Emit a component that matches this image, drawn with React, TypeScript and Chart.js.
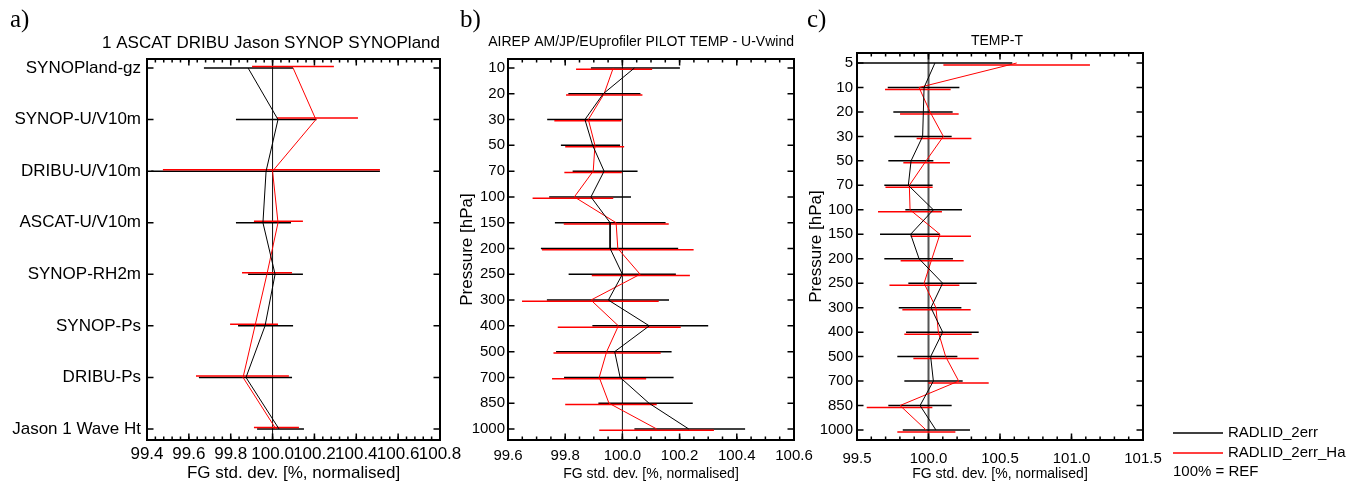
import React, { useEffect, useRef } from "react";
import { Chart, registerables } from "chart.js";

Chart.register(...registerables);

// ---------------- shared texts ----------------
const REF_VALUE = 100.0;
const X_TITLE = "FG std. dev. [%, normalised]";
const Y_TITLE = "Pressure [hPa]";
const SERIES_NAMES = ["RADLID_2err", "RADLID_2err_Ha"];
const REF_NOTE = "100% = REF";

// ---------------- panel a ----------------
const aTitle = "1 ASCAT DRIBU Jason SYNOP SYNOPland";
const aCategories = [
  "SYNOPland-gz",
  "SYNOP-U/V10m",
  "DRIBU-U/V10m",
  "ASCAT-U/V10m",
  "SYNOP-RH2m",
  "SYNOP-Ps",
  "DRIBU-Ps",
  "Jason 1 Wave Ht",
];
const aBlackMean = [99.883, 100.026, 99.969, 99.954, 100.012, 99.964, 99.873, 100.031];
const aBlackLow = [99.672, 99.825, 99.42, 99.825, 99.883, 99.835, 99.648, 99.926];
const aBlackHigh = [100.098, 100.21, 100.513, 100.088, 100.145, 100.098, 100.093, 100.15];
const aRedMean = [100.098, 100.207, 100.0, 100.026, 99.973, 99.916, 99.859, 100.016];
const aRedLow = [99.902, 100.021, 99.476, 99.911, 99.854, 99.797, 99.634, 99.911];
const aRedHigh = [100.293, 100.408, 100.513, 100.145, 100.093, 100.026, 100.078, 100.126];
const aXTicks = [99.4, 99.6, 99.8, 100.0, 100.2, 100.4, 100.6, 100.8];

// ---------------- panel b ----------------
const bTitle = "AIREP AM/JP/EUprofiler PILOT TEMP - U-Vwind";
const bLevels = ["10", "20", "30", "50", "70", "100", "150", "200", "250", "300", "400", "500", "700", "850", "1000"];
const bBlackMean = [100.042, 99.933, 99.869, 99.896, 99.936, 99.89, 99.957, 99.957, 100.0, 99.951, 100.094, 99.973, 99.992, 100.093, 100.232];
const bBlackLow = [99.89, 99.811, 99.737, 99.785, 99.826, 99.744, 99.764, 99.715, 99.812, 99.736, 99.895, 99.768, 99.796, 99.916, 100.042];
const bBlackHigh = [100.201, 100.063, 100.0, 99.992, 100.053, 100.03, 100.151, 100.195, 100.187, 100.163, 100.3, 100.172, 100.179, 100.246, 100.429];
const bRedMean = [99.968, 99.936, 99.881, 99.904, 99.898, 99.832, 99.978, 99.984, 100.062, 99.89, 99.986, 99.945, 99.919, 99.953, 100.12];
const bRedLow = [99.838, 99.803, 99.762, 99.8, 99.797, 99.686, 99.795, 99.719, 99.893, 99.649, 99.774, 99.759, 99.754, 99.8, 99.919];
const bRedHigh = [100.104, 100.07, 99.996, 100.006, 99.998, 99.968, 100.162, 100.249, 100.236, 100.127, 100.204, 100.134, 100.083, 100.12, 100.32];
const bXTicks = [99.6, 99.8, 100.0, 100.2, 100.4, 100.6];

// ---------------- panel c ----------------
const cTitle = "TEMP-T";
const cLevels = ["5", "10", "20", "30", "50", "70", "100", "150", "200", "250", "300", "400", "500", "700", "850", "1000"];
const cBlackMean = [100.045, 99.969, 99.964, 99.959, 99.878, 99.859, 100.034, 99.875, 99.934, 100.099, 100.017, 100.099, 100.015, 100.034, 99.941, 100.052];
const cBlackLow = [99.49, 99.715, 99.754, 99.761, 99.719, 99.691, 99.838, 99.661, 99.691, 99.859, 99.792, 99.843, 99.782, 99.831, 99.719, 99.82];
const cBlackHigh = [100.586, 100.216, 100.169, 100.162, 100.034, 100.029, 100.234, 100.08, 100.171, 100.337, 100.23, 100.351, 100.202, 100.239, 100.162, 100.29];
const cRedMean = [100.617, 99.934, 100.011, 100.104, 99.983, 99.866, 99.871, 100.08, 100.024, 99.969, 100.052, 100.069, 100.12, 100.211, 99.801, 99.983];
const cRedLow = [100.104, 99.696, 99.801, 99.917, 99.824, 99.699, 99.647, 99.875, 99.805, 99.727, 99.817, 99.831, 99.894, 99.999, 99.568, 99.782];
const cRedHigh = [101.129, 100.155, 100.211, 100.3, 100.15, 100.029, 100.094, 100.297, 100.246, 100.216, 100.295, 100.302, 100.351, 100.421, 100.027, 100.188];
const cXTicks = [99.5, 100.0, 100.5, 101.0, 101.5];

// ---------------- layout / style ----------------
const W = 1354;
const H = 484;
const SANS = '"Liberation Sans", Arial, Helvetica, sans-serif';
const SERIF = '"Liberation Serif", "Times New Roman", serif';
const BLACK = "#000000";
const RED = "#ff0000";

type Series = { color: string; mean: number[]; lo: number[]; hi: number[]; barOffset: number };
type PanelCfg = {
  key: string;
  letter: string;
  letterX: number;
  title: string;
  titleAlign: "right" | "center";
  titleSize: number;
  titleY: number;
  yLabels: string[];
  yMin: number;
  yMax: number;
  xMin: number;
  xMax: number;
  xTicks: number[];
  minorStep: number;
  padLeft: number;
  boxLeft: number;
  boxRight: number;
  boxTop: number;
  boxBottom: number;
  yTickSize: number;
  yTickPad: number;
  xTickSize: number;
  xTickPad: number;
  xTitleSize: number;
  xTitlePadBottom: number;
  yTitle: boolean;
  refColor: string;
  refWidth: number;
  legend: boolean;
  series: Series[];
};

const panels: PanelCfg[] = [
  {
    key: "a",
    letter: "a)",
    letterX: 10,
    title: aTitle,
    titleAlign: "right",
    titleSize: 17,
    titleY: 43.5,
    yLabels: aCategories,
    yMin: -0.1745,
    yMax: 7.213,
    xMin: 99.4,
    xMax: 100.8,
    xTicks: aXTicks,
    minorStep: 0.04,
    padLeft: 0,
    boxLeft: 147,
    boxRight: 440,
    boxTop: 59,
    boxBottom: 440,
    yTickSize: 17,
    yTickPad: 6,
    xTickSize: 17,
    xTickPad: 4,
    xTitleSize: 17,
    xTitlePadBottom: 0,
    yTitle: false,
    refColor: "#111111",
    refWidth: 1,
    legend: false,
    series: [
      { color: BLACK, mean: aBlackMean, lo: aBlackLow, hi: aBlackHigh, barOffset: 0 },
      { color: RED, mean: aRedMean, lo: aRedLow, hi: aRedHigh, barOffset: -1.5 },
    ],
  },
  {
    key: "b",
    letter: "b)",
    letterX: 460,
    title: bTitle,
    titleAlign: "right",
    titleSize: 14,
    titleY: 42.5,
    yLabels: bLevels,
    yMin: -0.349,
    yMax: 14.427,
    xMin: 99.6,
    xMax: 100.6,
    xTicks: bXTicks,
    minorStep: 0.05,
    padLeft: 455,
    boxLeft: 508,
    boxRight: 794,
    boxTop: 59,
    boxBottom: 440,
    yTickSize: 15,
    yTickPad: 3,
    xTickSize: 15,
    xTickPad: 7,
    xTitleSize: 14,
    xTitlePadBottom: 1,
    yTitle: true,
    refColor: "#111111",
    refWidth: 1,
    legend: false,
    series: [
      { color: BLACK, mean: bBlackMean, lo: bBlackLow, hi: bBlackHigh, barOffset: 0 },
      { color: RED, mean: bRedMean, lo: bRedLow, hi: bRedHigh, barOffset: 1.3 },
    ],
  },
  {
    key: "c",
    letter: "c)",
    letterX: 807,
    title: cTitle,
    titleAlign: "center",
    titleSize: 14,
    titleY: 41,
    yLabels: cLevels,
    yMin: -0.409,
    yMax: 15.409,
    xMin: 99.5,
    xMax: 101.5,
    xTicks: cXTicks,
    minorStep: 0.1,
    padLeft: 804,
    boxLeft: 857,
    boxRight: 1143,
    boxTop: 53,
    boxBottom: 440,
    yTickSize: 15,
    yTickPad: 4,
    xTickSize: 15,
    xTickPad: 10,
    xTitleSize: 14,
    xTitlePadBottom: 1,
    yTitle: true,
    refColor: "#555555",
    refWidth: 2,
    legend: true,
    series: [
      { color: BLACK, mean: cBlackMean, lo: cBlackLow, hi: cBlackHigh, barOffset: 0 },
      { color: RED, mean: cRedMean, lo: cRedLow, hi: cRedHigh, barOffset: 2 },
    ],
  },
];

function makePlugin(p: PanelCfg) {
  return {
    id: "decor_" + p.key,
    beforeDatasetsDraw(chart: any) {
      const { ctx, chartArea: a } = chart;
      const x = chart.scales.x;
      const y = chart.scales.y;
      ctx.save();
      ctx.beginPath();
      ctx.rect(a.left, a.top, a.right - a.left, a.bottom - a.top);
      ctx.clip();
      // reference line at 100%
      const rx = x.getPixelForValue(REF_VALUE);
      ctx.strokeStyle = p.refColor;
      ctx.lineWidth = p.refWidth;
      ctx.beginPath();
      ctx.moveTo(rx, a.top);
      ctx.lineTo(rx, a.bottom);
      ctx.stroke();
      // error bars
      p.series.forEach((s) => {
        ctx.strokeStyle = s.color;
        ctx.lineWidth = 1.5;
        s.lo.forEach((lo, i) => {
          const py = y.getPixelForValue(i) + s.barOffset;
          ctx.beginPath();
          ctx.moveTo(x.getPixelForValue(lo), py);
          ctx.lineTo(x.getPixelForValue(s.hi[i]), py);
          ctx.stroke();
        });
      });
      ctx.restore();
    },
    afterDraw(chart: any) {
      const { ctx, chartArea: a } = chart;
      const x = chart.scales.x;
      const y = chart.scales.y;
      ctx.save();
      // box
      ctx.strokeStyle = "#000";
      ctx.lineWidth = 2;
      ctx.strokeRect(a.left, a.top, a.right - a.left, a.bottom - a.top);
      // x ticks (inward, top and bottom)
      ctx.lineWidth = 1.5;
      const nMinor = Math.round((p.xMax - p.xMin) / p.minorStep);
      for (let k = 1; k < nMinor; k++) {
        const px = x.getPixelForValue(p.xMin + k * p.minorStep);
        ctx.beginPath();
        ctx.moveTo(px, a.bottom);
        ctx.lineTo(px, a.bottom - 3.5);
        ctx.moveTo(px, a.top);
        ctx.lineTo(px, a.top + 3.5);
        ctx.stroke();
      }
      p.xTicks.forEach((v) => {
        const px = x.getPixelForValue(v);
        ctx.beginPath();
        ctx.moveTo(px, a.bottom);
        ctx.lineTo(px, a.bottom - 6.5);
        ctx.moveTo(px, a.top);
        ctx.lineTo(px, a.top + 6.5);
        ctx.stroke();
      });
      // y ticks (inward, left and right)
      p.yLabels.forEach((_, i) => {
        const py = y.getPixelForValue(i);
        ctx.beginPath();
        ctx.moveTo(a.left, py);
        ctx.lineTo(a.left + 6.5, py);
        ctx.moveTo(a.right, py);
        ctx.lineTo(a.right - 6.5, py);
        ctx.stroke();
      });
      // panel title
      ctx.fillStyle = "#000";
      ctx.font = `${p.titleSize}px ${SANS}`;
      ctx.textBaseline = "middle";
      if (p.titleAlign === "right") {
        ctx.textAlign = "right";
        ctx.fillText(p.title, a.right, p.titleY);
      } else {
        ctx.textAlign = "center";
        ctx.fillText(p.title, (a.left + a.right) / 2 - 3, p.titleY);
      }
      // panel letter
      ctx.font = `25px ${SERIF}`;
      ctx.textAlign = "left";
      ctx.textBaseline = "alphabetic";
      ctx.fillText(p.letter, p.letterX, 27);
      // legend
      if (p.legend) {
        const lx0 = 1173;
        const lx1 = 1223;
        const rows = [
          { color: BLACK, name: SERIES_NAMES[0], yy: 433 },
          { color: RED, name: SERIES_NAMES[1], yy: 453 },
        ];
        ctx.font = `15px ${SANS}`;
        ctx.textBaseline = "middle";
        rows.forEach((r) => {
          ctx.strokeStyle = r.color;
          ctx.lineWidth = 1.5;
          ctx.beginPath();
          ctx.moveTo(lx0, r.yy);
          ctx.lineTo(lx1, r.yy);
          ctx.stroke();
          ctx.fillStyle = "#000";
          ctx.fillText(r.name, 1228, r.yy);
        });
        ctx.fillText(REF_NOTE, lx0, 472);
      }
      ctx.restore();
    },
  };
}

function buildConfig(p: PanelCfg): any {
  const datasets = p.series.map((s) => ({
    data: s.mean.map((v, i) => ({ x: v, y: i })),
    showLine: true,
    borderColor: s.color,
    backgroundColor: s.color,
    borderWidth: 1,
    pointRadius: 0,
    tension: 0,
  }));
  return {
    type: "scatter",
    data: { datasets },
    plugins: [makePlugin(p)],
    options: {
      responsive: false,
      maintainAspectRatio: false,
      animation: false,
      events: [],
      layout: { padding: { left: p.padLeft, right: W - p.boxRight, top: p.boxTop, bottom: 0 } },
      plugins: { legend: { display: false }, tooltip: { enabled: false }, title: { display: false } },
      scales: {
        x: {
          type: "linear",
          position: "bottom",
          min: p.xMin,
          max: p.xMax,
          afterBuildTicks: (s: any) => {
            s.ticks = p.xTicks.map((v) => ({ value: v }));
          },
          afterFit: (s: any) => {
            s.height = H - p.boxBottom;
            s.paddingLeft = 0;
            s.paddingRight = 0;
          },
          grid: { display: false, drawTicks: false },
          border: { display: false },
          ticks: {
            autoSkip: false,
            maxRotation: 0,
            minRotation: 0,
            padding: p.xTickPad,
            color: "#000",
            font: { size: p.xTickSize, family: SANS, lineHeight: 1.2 },
            callback: (v: any) => Number(v).toFixed(1),
          },
          title: {
            display: true,
            text: X_TITLE,
            color: "#000",
            font: { size: p.xTitleSize, family: SANS, lineHeight: 1.2 },
            padding: { top: 0, bottom: p.xTitlePadBottom },
          },
        },
        y: {
          type: "linear",
          position: "left",
          reverse: true,
          min: p.yMin,
          max: p.yMax,
          afterBuildTicks: (s: any) => {
            s.ticks = p.yLabels.map((_, i) => ({ value: i }));
          },
          afterFit: (s: any) => {
            s.width = p.boxLeft - p.padLeft;
            s.paddingTop = 0;
            s.paddingBottom = 0;
          },
          grid: { display: false, drawTicks: false },
          border: { display: false },
          ticks: {
            autoSkip: false,
            padding: p.yTickPad,
            color: "#000",
            font: { size: p.yTickSize, family: SANS, lineHeight: 1.2 },
            callback: (v: any) => p.yLabels[Math.round(Number(v))] ?? "",
          },
          title: p.yTitle
            ? {
                display: true,
                text: Y_TITLE,
                color: "#000",
                font: { size: 17, family: SANS, lineHeight: 1.2 },
                padding: { top: 2, bottom: 0 },
              }
            : { display: false },
        },
      },
    },
  };
}

function Panel({ cfg }: { cfg: PanelCfg }) {
  const ref = useRef<HTMLCanvasElement | null>(null);
  useEffect(() => {
    if (!ref.current) return;
    const chart = new Chart(ref.current, buildConfig(cfg));
    return () => chart.destroy();
  }, [cfg]);
  return (
    <canvas
      ref={ref}
      width={W}
      height={H}
      style={{ position: "absolute", left: 0, top: 0, width: W, height: H }}
    />
  );
}

export default function App() {
  return (
    <div style={{ position: "fixed", left: 0, top: 0, width: W, height: H, background: "#fff" }}>
      {panels.map((p) => (
        <Panel key={p.key} cfg={p} />
      ))}
    </div>
  );
}
